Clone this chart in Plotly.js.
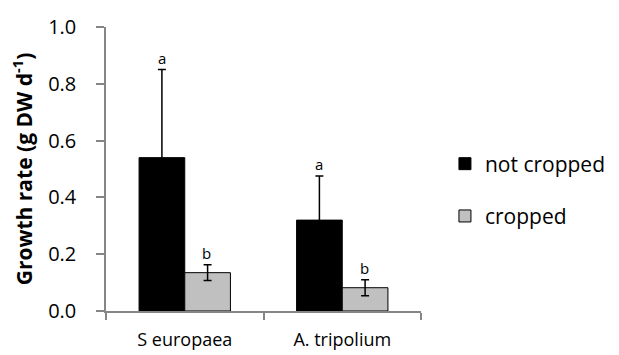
<!DOCTYPE html>
<html><head><meta charset="utf-8">
<script src="https://cdn.plot.ly/plotly-3.0.1.min.js"></script>
<style>html,body{margin:0;padding:0;background:#fff;}</style>
</head><body>
<div id="chart" style="width:619px;height:355px;"></div>
<script>
const categories = ["S europaea", "A. tripolium"];
const notCropped = [0.54, 0.32];
const notCroppedErr = [0.31, 0.155];
const cropped = [0.135, 0.082];
const croppedErr = [0.028, 0.028];
const notCroppedLetters = ["a", "a"];
const croppedLetters = ["b", "b"];
const yTicks = [0, 0.2, 0.4, 0.6, 0.8, 1.0];

const font = "'Open Sans', sans-serif";

const traces = [
  {type: "bar", name: "not cropped", x: categories, y: notCropped,
   marker: {color: "#000000", line: {color: "#000000", width: 1}},
   error_y: {type: "data", array: notCroppedErr, visible: true, color: "#000", thickness: 1.5, width: 4},
   legendgroup: "g1"},
  {type: "bar", name: "cropped", x: categories, y: cropped,
   marker: {color: "#c0c0c0", line: {color: "#000000", width: 1}},
   error_y: {type: "data", array: croppedErr, visible: true, color: "#000", thickness: 1.5, width: 4},
   legendgroup: "g2"}
];

const annotations = [];
categories.forEach((c, i) => {
  annotations.push({x: c, y: notCropped[i] + notCroppedErr[i], text: notCroppedLetters[i], showarrow: false,
    xshift: -23, yanchor: "bottom", yshift: 0, font: {family: font, size: 15, color: "#000"}});
  annotations.push({x: c, y: cropped[i] + croppedErr[i], text: croppedLetters[i], showarrow: false,
    xshift: 22, yanchor: "bottom", yshift: 0, font: {family: font, size: 15, color: "#000"}});
});

const layout = {
  width: 619, height: 355,
  margin: {l: 106, r: 198, t: 27, b: 44, autoexpand: false},
  paper_bgcolor: "#fff", plot_bgcolor: "#fff",
  barmode: "group", bargap: 0.42, bargroupgap: 0,
  font: {family: font, color: "#000"},
  xaxis: {showline: true, linecolor: "#868686", linewidth: 1.5, ticks: "outside", tickson: "boundaries",
          ticklen: 7, tickcolor: "#868686", tickwidth: 1.5, tickfont: {size: 18, family: font}, showgrid: false,
          ticklabelstandoff: 12},
  yaxis: {range: [0, 1.0], tickvals: yTicks, tickformat: ".1f", showline: true, linecolor: "#868686", linewidth: 1.5,
          ticks: "outside", ticklen: 8, tickcolor: "#868686", tickwidth: 1.5, showgrid: false, zeroline: false,
          tickfont: {size: 20, family: font}, ticklabelstandoff: 16,
          title: {text: "<b>Growth rate (g DW d<sup>-1</sup>)</b>", font: {size: 21, family: font}, standoff: 10}},
  showlegend: true,
  legend: {x: 1.076, xanchor: "left", y: 0.426, yanchor: "middle", traceorder: "grouped", tracegroupgap: 22,
           font: {size: 21, family: font}, itemwidth: 30},
  annotations: annotations
};

Plotly.newPlot("chart", traces, layout, {displayModeBar: false});
</script>
</body></html>
